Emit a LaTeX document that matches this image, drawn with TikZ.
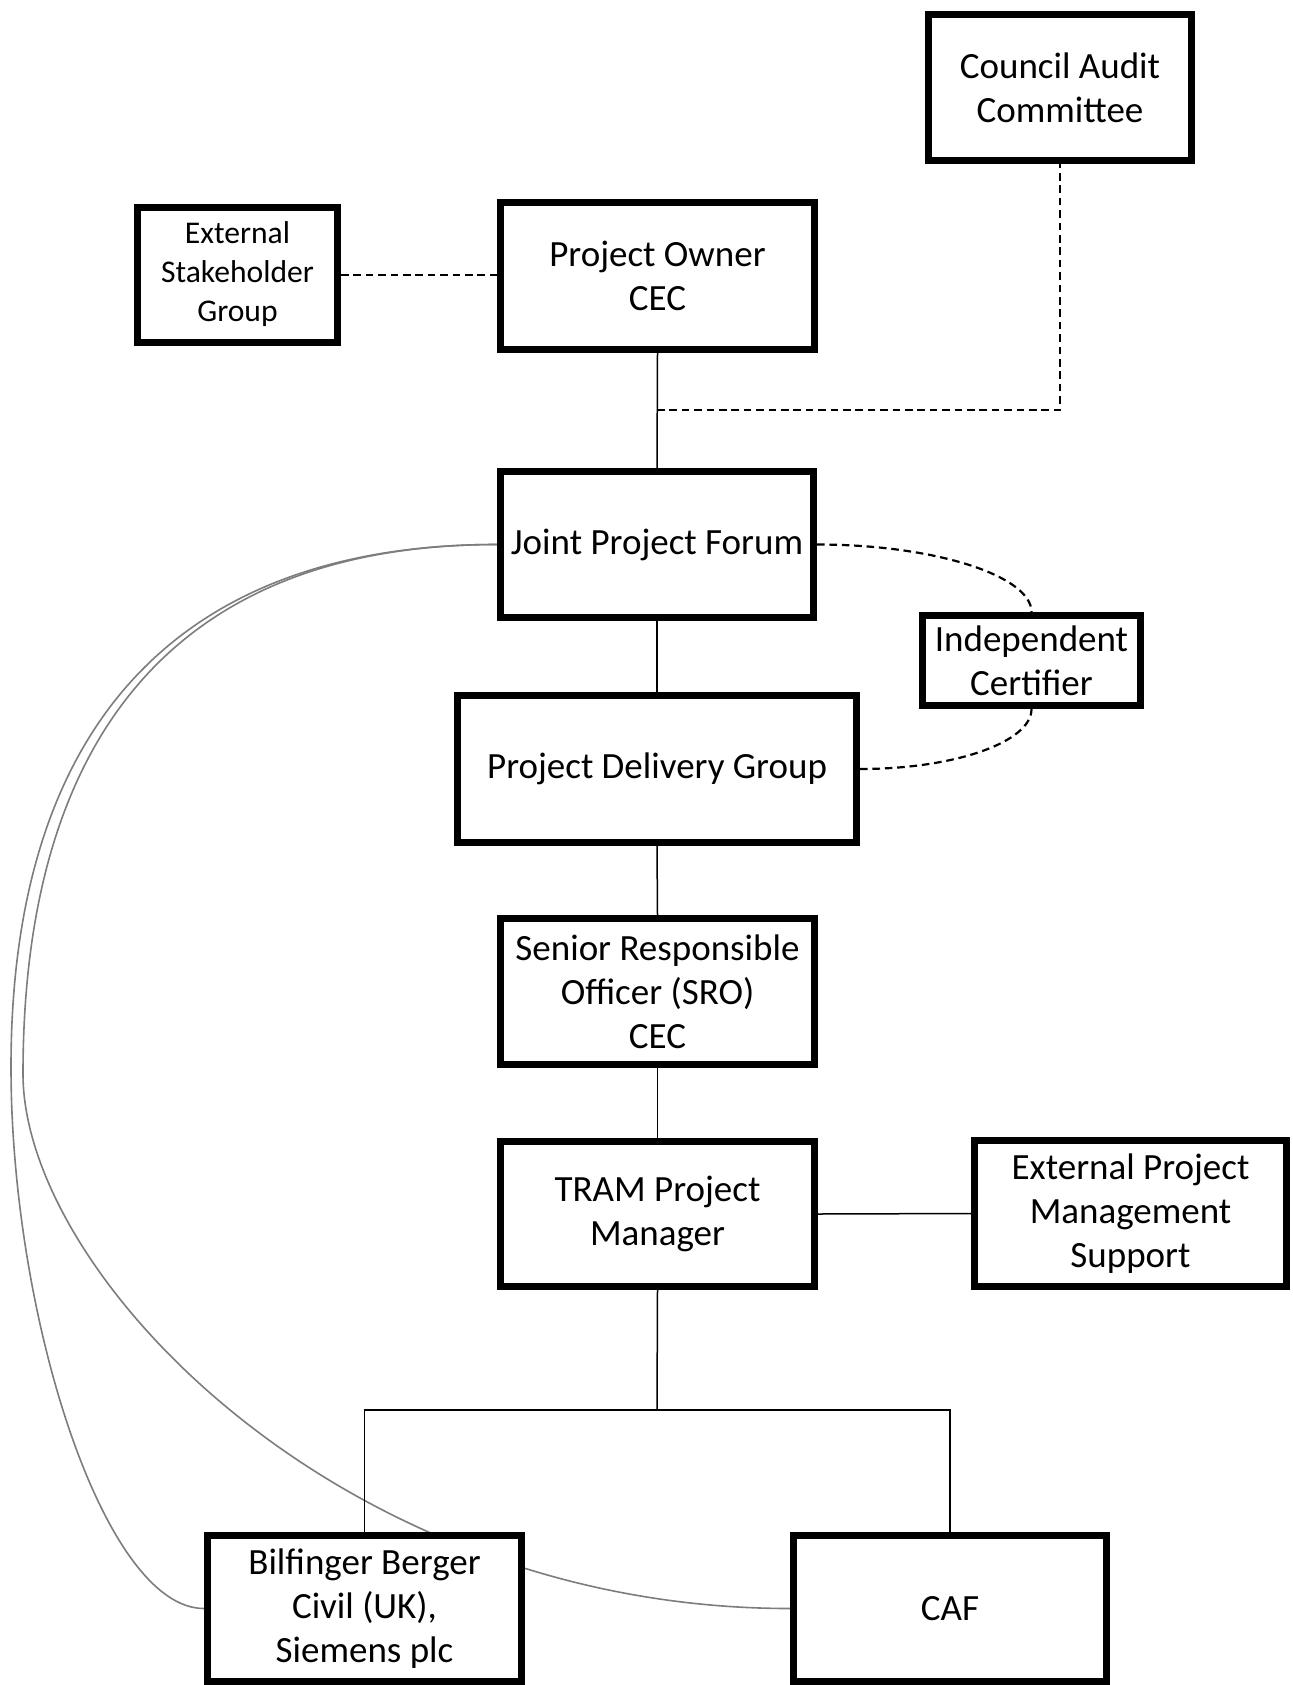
\documentclass[tikz,border=0pt]{standalone}
\usepackage{fontspec}
\setmainfont{Carlito}
\usetikzlibrary{backgrounds}
\definecolor{curvegray}{RGB}{125,125,125}
\begin{document}
\begin{tikzpicture}[x=0.5pt,y=-0.5pt,
  box/.style={draw=black,fill=white,line width=3.4pt,inner sep=0pt,align=center,font=\fontsize{18.5}{22}\selectfont},
  std/.style={box,minimum width=157.1pt,minimum height=73.1pt},
  link/.style={line width=0.75pt},
  dlink/.style={line width=1.1pt,dash pattern=on 3.8pt off 2.4pt},
  glink/.style={line width=0.8pt,draw=curvegray}]
\useasboundingbox (0,0) rectangle (1293,1685);

\node[box,minimum width=131.6pt,minimum height=73.1pt] (cac) at (1060,87.5) {Council Audit\\Committee};
\node[box,minimum width=100.1pt,minimum height=67.6pt,font=\fontsize{15.8}{19.4}\selectfont] (esg) at (237.5,275) {\raisebox{-4.5pt}{\begin{tabular}{@{}c@{}}External\\Stakeholder\\Group\end{tabular}}};
\node[std,minimum height=73.6pt] (po) at (657.5,276) {Project Owner\\CEC};
\node[std,minimum width=156.6pt] (jpf) at (657,544.5) {Joint Project Forum};
\node[box,minimum width=109.1pt,minimum height=45.1pt] (ic) at (1031.5,660.5) {Independent\\Certifier};
\node[box,minimum width=199.6pt,minimum height=73.6pt] (pdg) at (657,769) {Project Delivery Group};
\node[std] (sro) at (657.5,991.5) {Senior Responsible\\Officer (SRO)\\CEC};
\node[std,minimum height=72.6pt] (tram) at (657.5,1214) {TRAM Project\\Manager};
\node[std,minimum width=156.1pt] (epms) at (1130.5,1213.5) {External Project\\Management\\Support};
\node[std] (bb) at (364.5,1608.5) {Bilfinger Berger\\Civil (UK),\\Siemens plc};
\node[std,minimum width=156.6pt] (caf) at (950,1608.5) {CAF};

\coordinate (j1) at (657,410);
\coordinate (br) at (657,1410);
\coordinate (l1) at (11,1067);
\coordinate (l2) at (23,1074);

\draw[dlink] (esg.east) -- (po.west |- esg.east);
\draw[link] (po.south) -- (jpf.north);
\draw[dlink] (j1) -| (cac.south);
\draw[link] (jpf.south) -- (pdg.north);
\draw[link] (pdg.south) -- (sro.north);
\draw[link] (sro.south) -- (tram.north);
\draw[link] (tram.east) -- (epms.west);
\draw[link] (tram.south) -- (br);
\draw[link] (bb.north) |- (br) -| (caf.north);
\draw[dlink] (jpf.east) .. controls +(118,0) and +(0,-36) .. (ic.north);
\draw[dlink] (pdg.east) .. controls +(95,0) and +(0,33) .. (ic.south);

\begin{scope}[on background layer]
\fill[white] (0,0) rectangle (1293,1685);
\draw[glink] (jpf.west) .. controls +(-320,0) and +(0,-340) .. (l1) .. controls +(0,250) and +(-100,0) .. (bb.west);
\draw[glink] (jpf.west) .. controls +(-310,0) and +(0,-350) .. (l2) .. controls +(0,200) and +(-450,0) .. (caf.west);
\end{scope}
\end{tikzpicture}
\end{document}
